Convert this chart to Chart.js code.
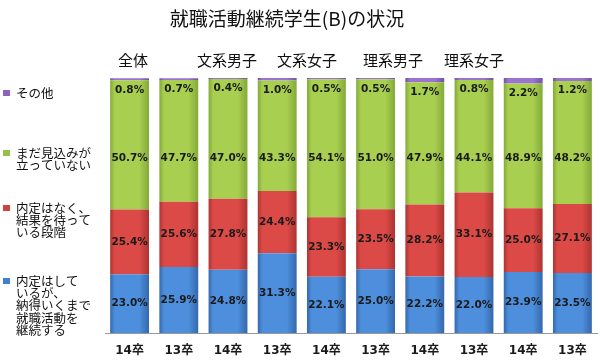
<!DOCTYPE html>
<html><head><meta charset="utf-8">
<script src="https://cdn.jsdelivr.net/npm/chart.js@4/dist/chart.umd.min.js"></script>
<style>html,body{margin:0;padding:0;background:#fff}#wrap{width:600px;height:360px;position:relative}</style>
</head><body><div id="wrap"><canvas id="c" width="600" height="360"></canvas></div>
<script>
const titleText = '就職活動継続学生(B)の状況';
const categories = ['14卒','13卒','14卒','13卒','14卒','13卒','14卒','13卒','14卒','13卒'];
const groups = ['全体','文系男子','文系女子','理系男子','理系女子'];
const seriesNames = [
  ['内定はして','いるが、','納得いくまで','就職活動を','継続する'],
  ['内定はなく、','結果を待って','いる段階'],
  ['まだ見込みが','立っていない'],
  ['その他']
];
const continuing = [23.0,25.9,24.8,31.3,22.1,25.0,22.2,22.0,23.9,23.5];
const waiting    = [25.4,25.6,27.8,24.4,23.3,23.5,28.2,33.1,25.0,27.1];
const noProspect = [50.7,47.7,47.0,43.3,54.1,51.0,47.9,44.1,48.9,48.2];
const other      = [0.8,0.7,0.4,1.0,0.5,0.5,1.7,0.8,2.2,1.2];

const palette = [
  {mid:'#4d8fdc', edge:'#3468ad', legend:'#3f7fcf'},
  {mid:'#dc4a47', edge:'#ad3431', legend:'#d04240'},
  {mid:'#a8cf50', edge:'#84aa38', legend:'#96c043'},
  {mid:'#9c74d0', edge:'#7252a8', legend:'#8a64c0'}
];

function barFill(idx) {
  return function(ctx) {
    const chart = ctx.chart;
    const p = palette[idx];
    if (!chart.chartArea || !chart.scales.x) return p.mid;
    const xs = chart.scales.x;
    const cx = xs.getPixelForValue(ctx.dataIndex);
    const step = (chart.chartArea.right - chart.chartArea.left) / categories.length;
    const hw = step * 0.79 / 2;
    const g = chart.ctx.createLinearGradient(cx - hw, 0, cx + hw, 0);
    g.addColorStop(0, p.edge);
    g.addColorStop(0.12, p.mid);
    g.addColorStop(0.75, p.mid);
    g.addColorStop(1, p.edge);
    return g;
  };
}

const series = [continuing, waiting, noProspect, other];

const decorPlugin = {
  id: 'decor',
  afterDatasetsDraw(chart) {
    const c = chart.ctx;
    const ys = chart.scales.y;
    c.save();
    c.textAlign = 'center';
    c.textBaseline = 'middle';
    c.fillStyle = '#1a1a1a';
    c.font = 'bold 10.5px "DejaVu Sans", "Noto Sans CJK JP", sans-serif';
    chart.data.datasets.forEach((ds, i) => {
      const meta = chart.getDatasetMeta(i);
      meta.data.forEach((bar, j) => {
        const v = ds.data[j];
        let y;
        if (i === 3) y = bar.base + 9.5;
        else if (i === 2) y = ys.getPixelForValue(68.7);
        else y = (bar.y + bar.base) / 2;
        c.fillText(v.toFixed(1) + '%', bar.x, y);
      });
    });
    c.restore();
  },
  afterDraw(chart) {
    const c = chart.ctx;
    c.save();
    c.fillStyle = '#111';
    c.textAlign = 'center';
    c.textBaseline = 'middle';
    c.font = '19px "Noto Sans CJK JP", sans-serif';
    c.fillText(titleText, 287, 19);
    c.font = '15px "Noto Sans CJK JP", sans-serif';
    const gx = [133, 227, 307, 393, 474];
    groups.forEach((g, k) => c.fillText(g, gx[k], 60));
    // legend
    c.textAlign = 'left';
    c.font = '12.5px "Noto Sans CJK JP", sans-serif';
    const firstY = [281, 208, 153, 93];
    seriesNames.forEach((lines, i) => {
      const y0 = firstY[i];
      c.fillStyle = palette[i].legend;
      c.fillRect(3, y0 - 3, 7, 6);
      c.fillStyle = '#111';
      lines.forEach((t, k) => c.fillText(t, 16, y0 + k * 12.3));
    });
    c.restore();
  }
};

new Chart(document.getElementById('c'), {
  type: 'bar',
  data: {
    labels: categories,
    datasets: series.map((d, i) => ({
      label: seriesNames[i].join(''),
      data: d,
      backgroundColor: barFill(i),
      borderWidth: 0,
      barPercentage: 0.79,
      categoryPercentage: 1.0
    }))
  },
  options: {
    responsive: false,
    animation: false,
    devicePixelRatio: 1,
    layout: {padding: {left: 105, right: 3, top: 78, bottom: 0}},
    plugins: {legend: {display: false}, title: {display: false}, tooltip: {enabled: false}},
    scales: {
      x: {
        stacked: true,
        grid: {display: false},
        border: {display: true, color: '#999', width: 1},
        afterFit(scale) { scale.height = 27; },
        ticks: {color: '#1a1a1a', padding: 3, font: {family: '"DejaVu Sans", "Noto Sans CJK JP", sans-serif', size: 12, weight: 'bold'}}
      },
      y: {
        stacked: true,
        display: false,
        min: 0,
        max: 100
      }
    }
  },
  plugins: [decorPlugin]
});
</script>
</body></html>
